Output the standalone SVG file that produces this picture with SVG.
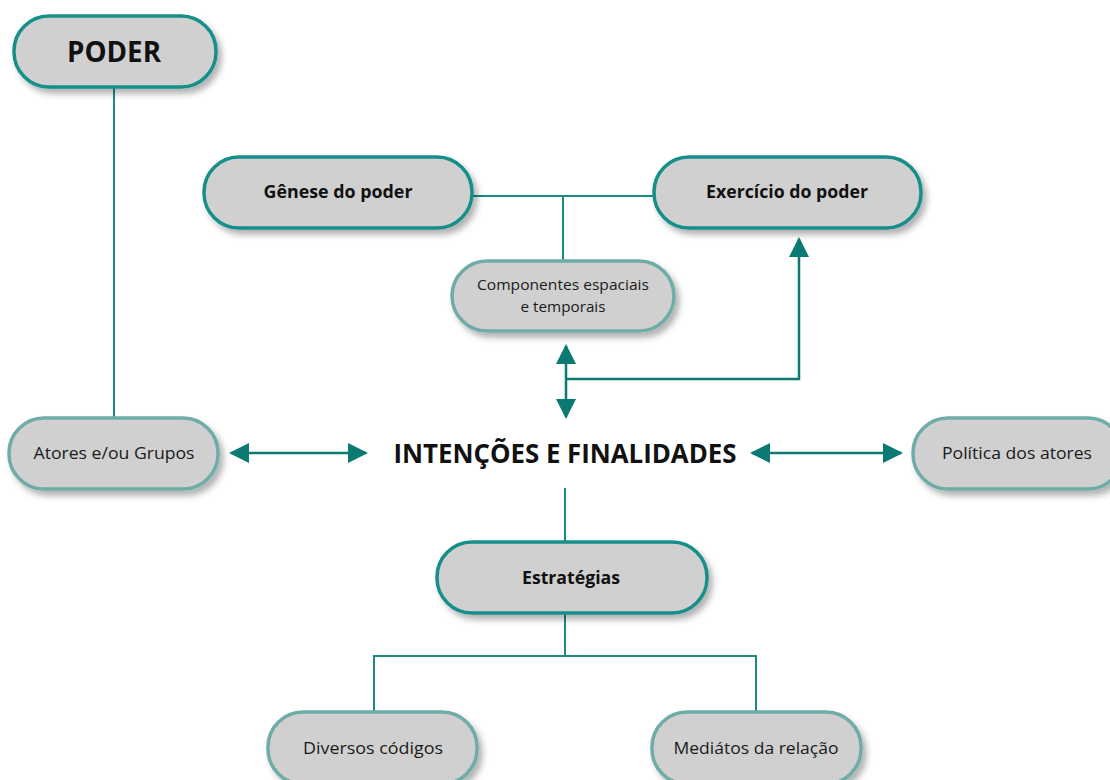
<svg xmlns="http://www.w3.org/2000/svg" width="1110" height="780" viewBox="0 0 1110 780">
<defs>
<filter id="sh" x="-10%" y="-20%" width="130%" height="160%">
<feDropShadow dx="4" dy="5" stdDeviation="3" flood-color="#000" flood-opacity="0.3"/>
</filter>
<marker id="ah" viewBox="0 0 10 10" refX="9" refY="5" markerWidth="20" markerHeight="20" markerUnits="userSpaceOnUse" orient="auto-start-reverse">
<path d="M0,0 L10,5 L0,10 z" fill="#0b7a72"/>
</marker>
<style>
.bx{fill:#d0d0d0;stroke:#178f8a;stroke-width:3.5;filter:url(#sh)}
.lb{fill:#d0d0d0;stroke:#6eaca7;stroke-width:3.5;filter:url(#sh)}
.ln{fill:none;stroke:#1a8a84;stroke-width:2}
.ar{fill:none;stroke:#0b7a72;stroke-width:2.5}
.tb{font-family:"Open Sans","Liberation Sans",sans-serif;font-weight:bold;fill:#111;text-anchor:middle}
.tr{font-family:"Open Sans","Liberation Sans",sans-serif;fill:#1a1a1a;text-anchor:middle}
</style>
</defs>
<g id="connectors">
<line class="ln" x1="114" y1="87" x2="114" y2="418"/>
<line class="ln" x1="472" y1="196" x2="654" y2="196"/>
<line class="ln" x1="563" y1="196" x2="563" y2="261"/>
<line class="ar" x1="566" y1="346" x2="566" y2="417" marker-start="url(#ah)" marker-end="url(#ah)"/>
<polyline class="ar" points="566,379 799,379 799,239" marker-end="url(#ah)"/>
<line class="ar" x1="231" y1="453" x2="366" y2="453" marker-start="url(#ah)" marker-end="url(#ah)"/>
<line class="ar" x1="752" y1="453" x2="901" y2="453" marker-start="url(#ah)" marker-end="url(#ah)"/>
<line class="ln" x1="565" y1="488" x2="565" y2="543"/>
<line class="ln" x1="565" y1="613" x2="565" y2="656"/>
<polyline class="ln" points="374,712 374,656 756,656 756,712"/>
</g>
<g id="poder">
<rect class="bx" x="14" y="16" width="202" height="71" rx="35"/>
<text class="tb" x="114" y="62" font-size="28" textLength="94" lengthAdjust="spacingAndGlyphs">PODER</text>
</g>
<g id="genese">
<rect class="bx" x="204" y="157" width="268" height="71" rx="35"/>
<text class="tb" x="338" y="198" font-size="17" textLength="149" lengthAdjust="spacingAndGlyphs">Gênese do poder</text>
</g>
<g id="exercicio">
<rect class="bx" x="654" y="157" width="267" height="71" rx="35"/>
<text class="tb" x="787" y="198" font-size="17" textLength="162" lengthAdjust="spacingAndGlyphs">Exercício do poder</text>
</g>
<g id="componentes">
<rect class="lb" x="452" y="261" width="222" height="70" rx="35"/>
<text class="tr" x="563" y="290" font-size="14.5" textLength="172" lengthAdjust="spacingAndGlyphs">Componentes espaciais</text>
<text class="tr" x="563" y="312" font-size="14.5" textLength="85" lengthAdjust="spacingAndGlyphs">e temporais</text>
</g>
<g id="atores">
<rect class="lb" x="9" y="418" width="209" height="71" rx="35"/>
<text class="tr" x="114" y="459" font-size="16.5" textLength="161" lengthAdjust="spacingAndGlyphs">Atores e/ou Grupos</text>
</g>
<g id="intencoes">
<text class="tb" x="565" y="463" font-size="27" textLength="343" lengthAdjust="spacingAndGlyphs">INTENÇÕES E FINALIDADES</text>
</g>
<g id="politica">
<rect class="lb" x="913" y="418" width="210" height="71" rx="35"/>
<text class="tr" x="1017" y="459" font-size="16.5" textLength="150" lengthAdjust="spacingAndGlyphs">Política dos atores</text>
</g>
<g id="estrategias">
<rect class="bx" x="437" y="542" width="270" height="71" rx="35"/>
<text class="tb" x="571" y="584" font-size="17" textLength="98" lengthAdjust="spacingAndGlyphs">Estratégias</text>
</g>
<g id="diversos">
<rect class="lb" x="268" y="712" width="209" height="72" rx="35"/>
<text class="tr" x="373" y="754" font-size="16.5" textLength="140" lengthAdjust="spacingAndGlyphs">Diversos códigos</text>
</g>
<g id="mediatos">
<rect class="lb" x="652" y="712" width="209" height="72" rx="35"/>
<text class="tr" x="756" y="754" font-size="16.5" textLength="165" lengthAdjust="spacingAndGlyphs">Mediátos da relação</text>
</g>
</svg>
